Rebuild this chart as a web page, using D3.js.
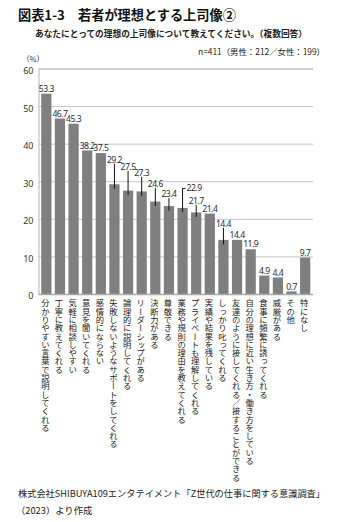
<!DOCTYPE html>
<html lang="ja">
<head>
<meta charset="utf-8">
<script src="https://cdn.jsdelivr.net/npm/d3@7"></script>
<style>
  html, body { margin: 0; padding: 0; background: #fff; }
  svg { display: block; font-family: "Noto Sans CJK JP", "Noto Sans", sans-serif; }
</style>
</head>
<body>
<svg id="chart" width="340" height="522"></svg>
<script>
// Survey answers (multiple choice), percentage of respondents
const categories = [
  "分かりやすい言葉で説明してくれる",
  "丁寧に教えてくれる",
  "気軽に相談しやすい",
  "意見を聞いてくれる",
  "感情的にならない",
  "失敗しないようなサポートをしてくれる",
  "論理的に説明してくれる",
  "リーダーシップがある",
  "決断力がある",
  "尊敬できる",
  "業務や規則の理由を教えてくれる",
  "プライベートも理解してくれる",
  "実績や結果を残している",
  "しっかり叱ってくれる",
  "友達のように接してくれる／接することができる",
  "自分の理想に近い生き方・働き方をしている",
  "食事に頻繁に誘ってくれる",
  "威厳がある",
  "その他",
  "特になし"
];
const values = [53.3, 46.7, 45.3, 38.2, 37.5, 29.2, 27.5, 27.3, 24.6, 23.4,
                22.9, 21.7, 21.4, 14.4, 14.4, 11.9, 4.9, 4.4, 0.7, 9.7];
const yTicks = [0, 10, 20, 30, 40, 50, 60];

const titleText = "図表1-3　若者が理想とする上司像②";
const subtitleText = "あなたにとっての理想の上司像について教えてください。（複数回答）";
const sampleText = "n=411（男性：212／女性：199）";
const sourceLines = [
  "株式会社SHIBUYA109エンタテイメント「Z世代の仕事に関する意識調査」",
  "（2023）より作成"
];

// Value labels lifted above crowded bars, joined to the bar by a leader line (px)
const labelLift = {5: 20, 6: 19, 7: 14, 8: 13, 9: 7.5, 11: 7, 13: 11.5};
// Label pushed to the right with an elbow leader
const elbowLabel = {10: {lift: 19.5, dx: 4}};

const svg = d3.select("#chart");

const plotLeft = 38.5, plotRight = 313, plotTop = 68.5, plotBottom = 294;

const x = d3.scaleBand().domain(d3.range(categories.length))
  .range([plotLeft, plotRight]).paddingInner(0.25).paddingOuter(0.2);
const y = d3.scaleLinear().domain([0, 60]).range([plotBottom, plotTop]);

// Title block
svg.append("text").attr("x", 18).attr("y", 20)
  .attr("font-size", 13.2).attr("font-weight", 700).attr("fill", "#111")
  .text(titleText);
svg.append("text").attr("x", 35).attr("y", 37)
  .attr("font-size", 8.8).attr("font-weight", 700).attr("fill", "#222")
  .attr("textLength", 272).attr("lengthAdjust", "spacingAndGlyphs")
  .text(subtitleText);
svg.append("text").attr("x", 325).attr("y", 54.5).attr("text-anchor", "end")
  .attr("font-size", 8.4).attr("fill", "#222")
  .text(sampleText);

// Unit label
svg.append("text").attr("x", 22).attr("y", 61.5)
  .attr("font-size", 7.6).attr("fill", "#333").text("（%）");

// Gridlines and y axis
const yAxis = d3.axisLeft(y).tickValues(yTicks).tickSize(-(plotRight - plotLeft)).tickPadding(5);
const gy = svg.append("g").attr("transform", `translate(${plotLeft},0)`).call(yAxis);
gy.select(".domain").attr("stroke", "#b5b5b5").attr("stroke-width", 1);
gy.selectAll(".tick line").attr("stroke", "#c4c4c4").attr("stroke-width", 1);
gy.selectAll(".tick text").attr("font-size", 9).attr("fill", "#333")
  .attr("dy", "0.55em")
  .attr("font-family", "'Noto Sans', sans-serif");

// Bars
svg.append("g").selectAll("rect").data(values).join("rect")
  .attr("x", (d, i) => x(i))
  .attr("y", d => y(d))
  .attr("width", x.bandwidth())
  .attr("height", d => y(0) - y(d))
  .attr("fill", "#7f7f7f");

// Baseline
svg.append("line").attr("x1", plotLeft).attr("x2", plotRight)
  .attr("y1", plotBottom + 0.5).attr("y2", plotBottom + 0.5)
  .attr("stroke", "#a8a8a8").attr("stroke-width", 1.5);

// Value labels
const lg = svg.append("g").attr("font-size", 8.6).attr("fill", "#2a2a3a")
  .attr("letter-spacing", "-0.5px")
  .attr("font-family", "'Noto Sans', sans-serif");
values.forEach((v, i) => {
  const cx = x(i) + x.bandwidth() / 2;
  const barTop = y(v);
  if (elbowLabel[i]) {
    const e = elbowLabel[i];
    const ly = barTop - e.lift;
    svg.append("path")
      .attr("d", `M${cx},${barTop + 4}V${ly}H${cx + 3}`)
      .attr("fill", "none").attr("stroke", "#111").attr("stroke-width", 1);
    lg.append("text").attr("x", cx + e.dx).attr("y", ly + 3)
      .text(v.toFixed(1));
  } else if (labelLift[i] !== undefined) {
    const ly = barTop - 4.5 - labelLift[i];
    svg.append("line").attr("x1", cx).attr("x2", cx)
      .attr("y1", ly + 4).attr("y2", barTop + 4.5)
      .attr("stroke", "#111").attr("stroke-width", 1);
    lg.append("text").attr("x", cx).attr("y", ly + 3).attr("text-anchor", "middle")
      .text(v.toFixed(1));
  } else {
    lg.append("text").attr("x", cx).attr("y", barTop - 1.8).attr("text-anchor", "middle")
      .text(v.toFixed(1));
  }
});

// Category labels, set vertically beneath each bar
svg.append("g").selectAll("text").data(categories).join("text")
  .attr("transform", (d, i) => `translate(${x(i) + x.bandwidth() / 2 - 1},${plotBottom + 5})`)
  .attr("writing-mode", "vertical-rl")
  .attr("font-size", 8.3).attr("fill", "#222")
  .text(d => d);

// Source
svg.append("text").attr("x", 18).attr("y", 497)
  .attr("font-size", 9.3).attr("fill", "#222")
  .attr("textLength", 307).attr("lengthAdjust", "spacingAndGlyphs")
  .text(sourceLines[0]);
svg.append("text").attr("x", 16).attr("y", 514)
  .attr("font-size", 9.3).attr("fill", "#222")
  .text(sourceLines[1]);
</script>
</body>
</html>
